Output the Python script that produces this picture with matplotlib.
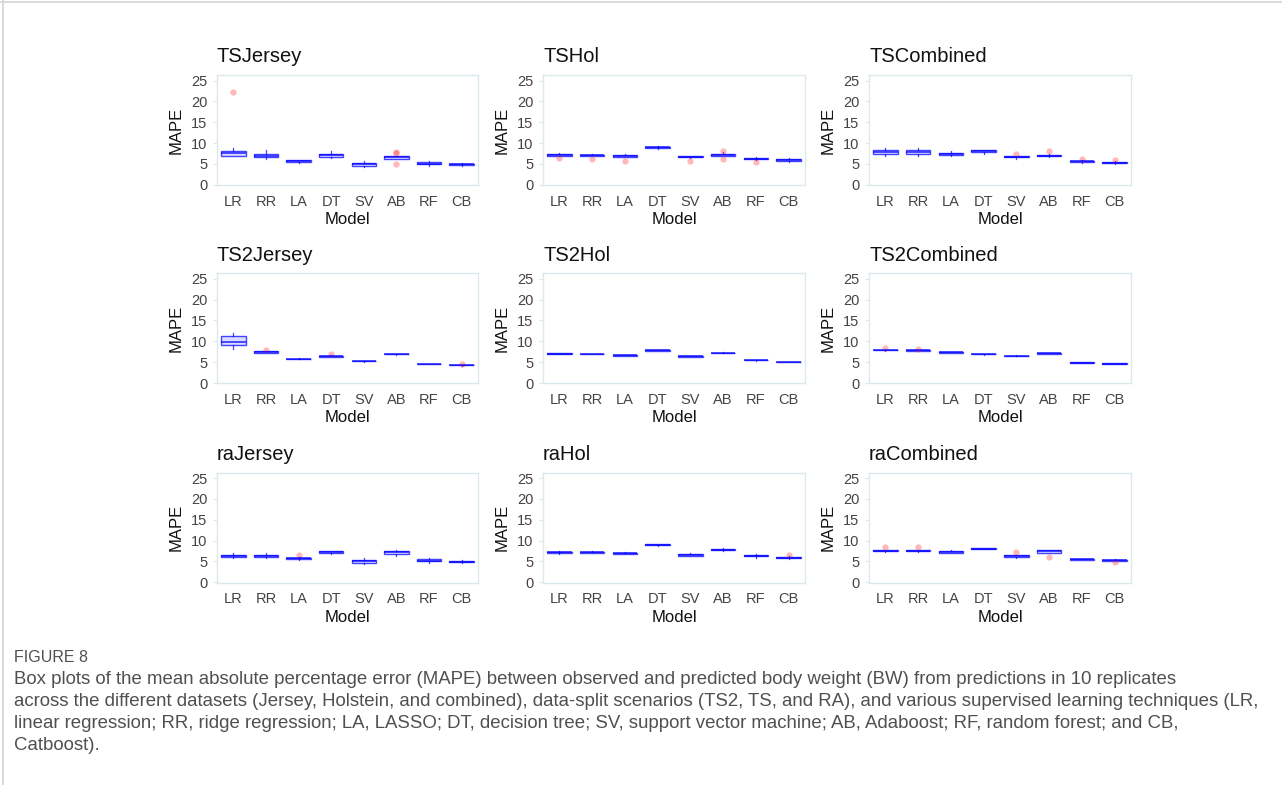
import matplotlib
matplotlib.use("Agg")
import matplotlib.pyplot as plt
from matplotlib import font_manager
from matplotlib.lines import Line2D

# ---------------- data ----------------
models = ["LR", "RR", "LA", "DT", "SV", "AB", "RF", "CB"]
yticks = [0, 5, 10, 15, 20, 25]
titles = ["TSJersey", "TSHol", "TSCombined",
          "TS2Jersey", "TS2Hol", "TS2Combined",
          "raJersey", "raHol", "raCombined"]

# each row: (whisker low, q1, median, q3, whisker high)
tsjersey_box = [(6.8, 7.0, 7.6, 8.2, 8.8), (6.15, 6.55, 6.95, 7.35, 8.4), (5.2, 5.35, 5.6, 5.9, 6.05),
                (6.4, 6.6, 7.1, 7.5, 8.0), (4.2, 4.6, 4.95, 5.2, 5.6), (6.1, 6.2, 6.55, 6.8, 6.9),
                (4.55, 4.9, 5.1, 5.4, 5.6), (4.6, 4.8, 4.95, 5.1, 5.2)]
tsjersey_out = [[22.3], [], [], [], [], [7.6, 7.8, 5.0], [], []]

tshol_box = [(6.9, 7.0, 7.2, 7.35, 7.6), (6.85, 6.95, 7.1, 7.25, 7.45), (6.6, 6.75, 6.9, 7.05, 7.35),
             (8.7, 8.8, 9.0, 9.15, 9.25), (6.4, 6.55, 6.7, 6.8, 7.0), (6.8, 7.0, 7.25, 7.45, 7.75),
             (5.9, 6.1, 6.3, 6.45, 6.6), (5.5, 5.75, 6.0, 6.25, 6.4)]
tshol_out = [[6.4], [6.25], [5.8], [], [5.7], [8.05, 6.1], [5.35], []]

tscomb_box = [(6.95, 7.35, 7.9, 8.45, 8.85), (6.95, 7.35, 7.9, 8.45, 8.85), (6.8, 7.2, 7.4, 7.65, 8.0),
              (7.4, 7.75, 8.0, 8.3, 8.45), (6.2, 6.55, 6.7, 6.85, 7.0), (6.6, 6.8, 6.95, 7.1, 7.3),
              (5.3, 5.45, 5.6, 5.75, 5.9), (5.0, 5.15, 5.3, 5.45, 5.6)]
tscomb_out = [[], [], [], [], [7.5], [8.0], [6.3], [6.0]]

ts2jersey_box = [(8.1, 9.1, 9.9, 11.3, 11.9), (7.15, 7.25, 7.45, 7.6, 7.7), (5.7, 5.75, 5.8, 5.85, 5.9),
                 (6.25, 6.3, 6.45, 6.6, 6.7), (5.15, 5.2, 5.25, 5.3, 5.35), (6.8, 6.85, 6.9, 6.95, 7.0),
                 (4.45, 4.5, 4.55, 4.6, 4.65), (4.2, 4.25, 4.3, 4.35, 4.4)]
ts2jersey_out = [[], [8.0], [], [7.0], [], [], [], [4.45]]

ts2hol_box = [(6.95, 7.0, 7.05, 7.1, 7.15), (6.85, 6.9, 6.95, 7.0, 7.05), (6.55, 6.6, 6.65, 6.7, 6.75),
              (7.75, 7.8, 7.85, 7.9, 7.95), (6.3, 6.35, 6.4, 6.45, 6.5), (7.1, 7.2, 7.25, 7.3, 7.4),
              (5.4, 5.45, 5.5, 5.55, 5.6), (4.95, 5.0, 5.05, 5.1, 5.15)]
ts2hol_out = [[], [], [], [], [], [], [], []]

ts2comb_box = [(7.8, 7.85, 7.9, 7.95, 8.0), (7.75, 7.8, 7.85, 7.9, 7.95), (7.25, 7.3, 7.35, 7.4, 7.45),
               (6.8, 6.85, 6.9, 6.95, 7.0), (6.45, 6.5, 6.55, 6.6, 6.65), (7.0, 7.05, 7.1, 7.15, 7.2),
               (4.8, 4.85, 4.9, 4.95, 5.0), (4.55, 4.6, 4.65, 4.7, 4.75)]
ts2comb_out = [[8.3], [8.25], [], [], [], [], [], []]

rajersey_box = [(5.85, 6.0, 6.3, 6.65, 7.0), (5.85, 6.0, 6.3, 6.65, 7.0), (5.3, 5.6, 5.8, 5.95, 6.05),
                (6.85, 6.95, 7.2, 7.45, 7.6), (4.4, 4.75, 5.05, 5.45, 5.85), (6.4, 6.9, 7.2, 7.6, 7.85),
                (4.75, 5.0, 5.2, 5.55, 5.85), (4.65, 4.8, 4.95, 5.1, 5.25)]
rajersey_out = [[], [], [6.5], [], [], [], [], []]

rahol_box = [(6.9, 7.05, 7.2, 7.35, 7.5), (6.95, 7.05, 7.2, 7.35, 7.5), (6.7, 6.8, 6.95, 7.1, 7.3),
             (8.75, 8.85, 9.0, 9.1, 9.2), (6.2, 6.35, 6.55, 6.75, 7.0), (7.4, 7.65, 7.85, 8.0, 8.3),
             (5.9, 6.2, 6.4, 6.6, 6.75), (5.6, 5.75, 5.9, 6.05, 6.2)]
rahol_out = [[], [], [], [], [], [], [], [6.5]]

racomb_box = [(7.3, 7.45, 7.6, 7.75, 7.85), (7.3, 7.45, 7.6, 7.75, 7.85), (6.95, 7.1, 7.3, 7.45, 7.65),
              (7.95, 8.0, 8.1, 8.2, 8.25), (5.9, 6.15, 6.3, 6.45, 6.55), (7.0, 7.1, 7.45, 7.65, 7.85),
              (5.4, 5.45, 5.5, 5.55, 5.6), (5.0, 5.15, 5.3, 5.45, 5.55)]
racomb_out = [[8.4], [8.4], [], [], [7.3], [6.15], [], [4.9]]

panel_boxes = [tsjersey_box, tshol_box, tscomb_box,
               ts2jersey_box, ts2hol_box, ts2comb_box,
               rajersey_box, rahol_box, racomb_box]
panel_outliers = [tsjersey_out, tshol_out, tscomb_out,
                  ts2jersey_out, ts2hol_out, ts2comb_out,
                  rajersey_out, rahol_out, racomb_out]

caption_head = "FIGURE 8"
caption_lines = [
    "Box plots of the mean absolute percentage error (MAPE) between observed and predicted body weight (BW) from predictions in 10 replicates",
    "across the different datasets (Jersey, Holstein, and combined), data-split scenarios (TS2, TS, and RA), and various supervised learning techniques (LR,",
    "linear regression; RR, ridge regression; LA, LASSO; DT, decision tree; SV, support vector machine; AB, Adaboost; RF, random forest; and CB,",
    "Catboost).",
]

# ---------------- figure ----------------
W, H = 1282, 785
plt.rcParams['font.family'] = ['Liberation Sans', 'DejaVu Sans']
fig = plt.figure(figsize=(W / 100, H / 100), dpi=100)

cols = [(217, 478), (543, 805), (869, 1131)]
rows = [(75, 185), (273, 383.3), (472.5, 582.5)]
frame_col = '#dce9ec'
blue_edge = (0.0, 0.0, 1.0, 0.72)
blue_fill = (0.0, 0.0, 1.0, 0.14)

for i, title in enumerate(titles):
    r, c = divmod(i, 3)
    x0, x1 = cols[c]
    y0, y1 = rows[r]
    ax = fig.add_axes([x0 / W, 1 - y1 / H, (x1 - x0) / W, (y1 - y0) / H])
    stats = []
    for m, b, fl in zip(models, panel_boxes[i], panel_outliers[i]):
        stats.append(dict(label=m, whislo=b[0], q1=b[1], med=b[2], q3=b[3], whishi=b[4], fliers=fl))
    ax.bxp(stats, positions=range(len(models)), widths=0.75, patch_artist=True,
           showcaps=False,
           boxprops=dict(facecolor=blue_fill, edgecolor=blue_edge, linewidth=1.0),
           medianprops=dict(color=blue_edge, linewidth=1.3),
           whiskerprops=dict(color=blue_edge, linewidth=0.9),
           flierprops=dict(marker='o', markersize=4.5, markerfacecolor=(1, 0.2, 0.2, 0.35),
                           markeredgecolor='none'))
    ax.set_xlim(-0.5, len(models) - 0.5)
    ax.set_ylim(-0.05, 26.35)
    ax.set_yticks(yticks)
    ax.set_yticklabels([str(t) for t in yticks])
    for s in ax.spines.values():
        s.set_color(frame_col)
        s.set_linewidth(1.0)
    ax.tick_params(axis='both', colors=frame_col, labelcolor='#444444', labelsize=10.5,
                   length=3, width=0.8, pad=4)
    ax.tick_params(axis='x', length=0, pad=7)
    ax.set_ylabel("MAPE", fontsize=12, color='#111111', labelpad=5)
    ax.set_xlabel("Model", fontsize=12, color='#111111', labelpad=2.5)
    ax.set_title(title, loc='left', fontsize=14.5, color='#111111', pad=9)

# page border lines
fig.add_artist(Line2D([0, 1], [1 - 1.5 / H, 1 - 1.5 / H], transform=fig.transFigure,
                      color='#d4d4d4', linewidth=1.2))
fig.add_artist(Line2D([2.5 / W, 2.5 / W], [0, 1], transform=fig.transFigure,
                      color='#d4d4d4', linewidth=1.2))

# caption
avail = {f.name for f in font_manager.fontManager.ttflist}
cap_font = ['Liberation Sans Narrow', 'DejaVu Sans'] if 'Liberation Sans Narrow' in avail else ['Liberation Sans', 'DejaVu Sans']
fig.text(14 / W, 1 - 657 / H, caption_head, fontsize=11.5, color='#505050', family=cap_font,
         va='center', ha='left')
texts = []
for k, line in enumerate(caption_lines):
    t = fig.text(14 / W, 1 - (680 + 22 * k) / H, line, fontsize=11, color='#505050',
                 family=cap_font, va='center', ha='left')
    texts.append(t)
fig.canvas.draw()
target = 1262 - 14
wid = texts[1].get_window_extent().width
scale = target / wid
for t in texts:
    t.set_fontsize(11 * scale)

fig.savefig("out.png", dpi=100, facecolor='white')
